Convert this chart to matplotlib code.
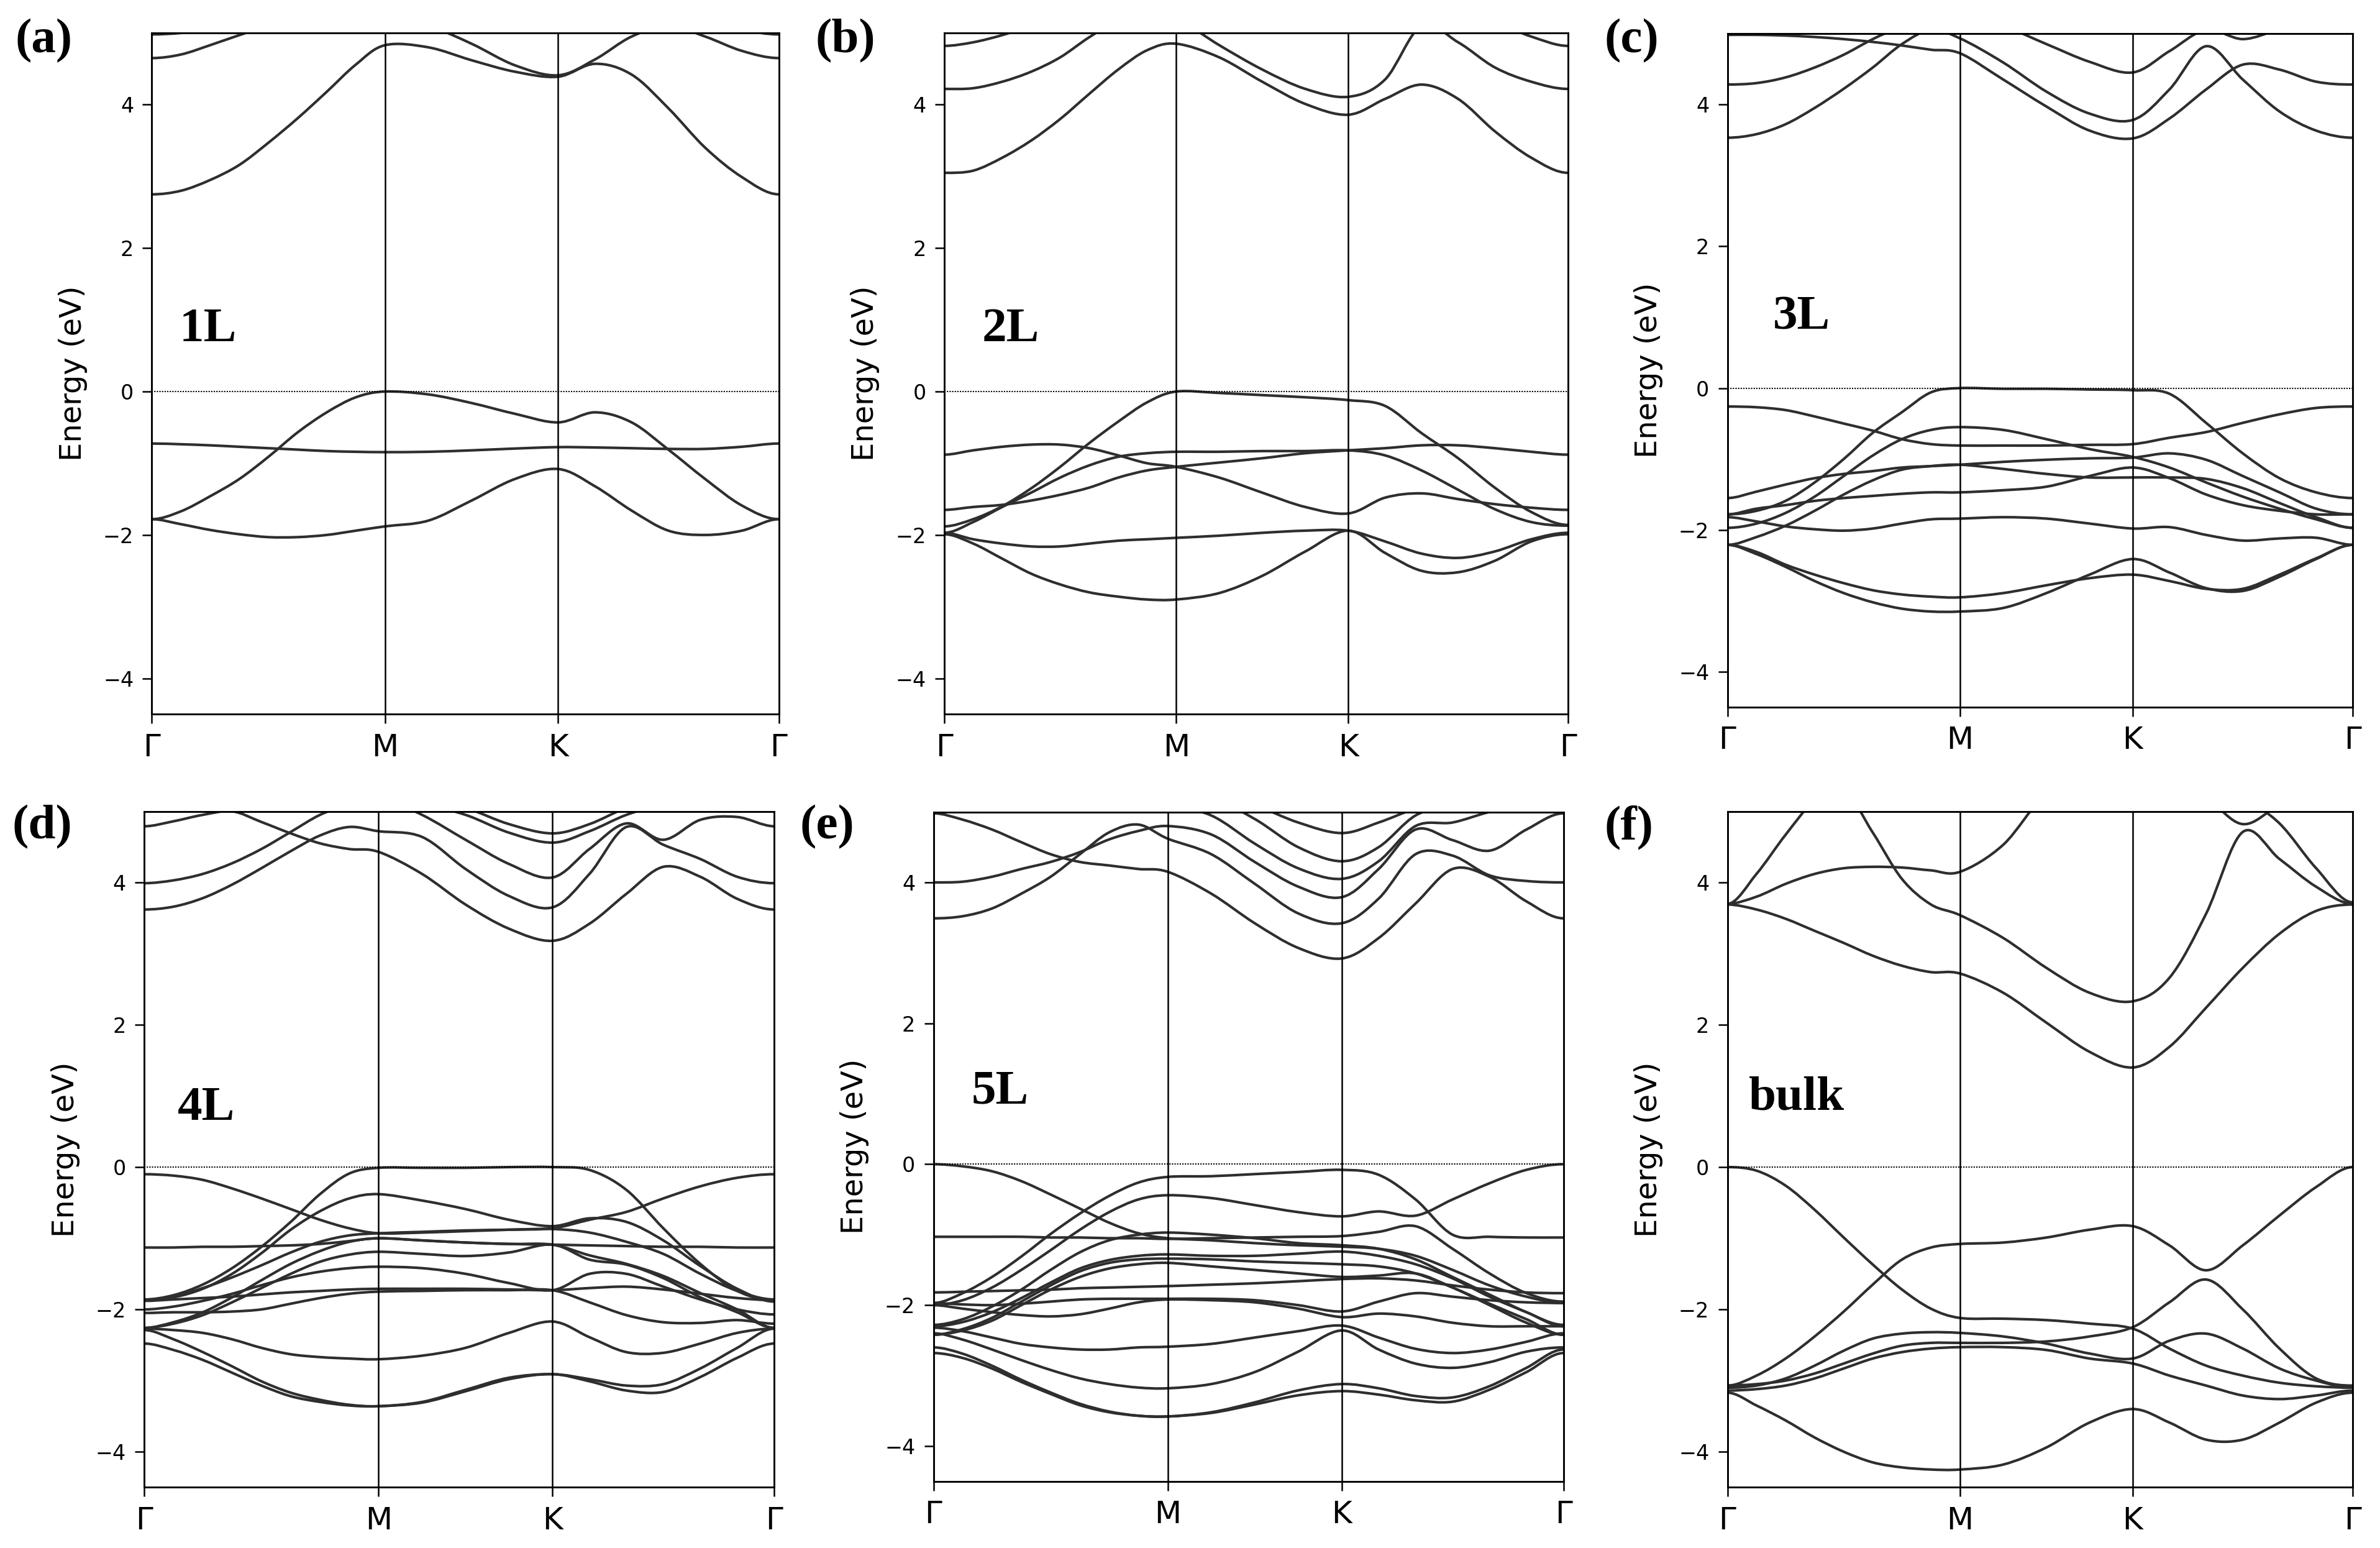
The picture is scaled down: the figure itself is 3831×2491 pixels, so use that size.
import matplotlib
matplotlib.use("Agg")
import matplotlib.pyplot as plt
import numpy as np
from matplotlib.path import Path
from matplotlib.patches import PathPatch

# ---------------- k-path sampling (fraction of path length) ----------------
k_frac = [0.0, 0.0465, 0.093, 0.1395, 0.186, 0.2325, 0.279, 0.3255, 0.372,
          0.441, 0.510, 0.579, 0.648,
          0.7067, 0.7653, 0.824, 0.8827, 0.9413, 1.0]
hs_pos = [0.0, 0.372, 0.648, 1.0]
hs_labels = ["Γ", "M", "K", "Γ"]
y_ticks = [-4, -2, 0, 2, 4]

# ---------------- (a) 1L ----------------
bands_1L = [
    [-1.78, -1.67, -1.46, -1.22, -0.91, -0.57, -0.29, -0.08, 0.0, -0.04, -0.16, -0.31, -0.43, -0.29, -0.43, -0.81, -1.22, -1.59, -1.78],
    [-0.725, -0.735, -0.75, -0.77, -0.79, -0.81, -0.83, -0.84, -0.845, -0.84, -0.82, -0.795, -0.775, -0.78, -0.79, -0.80, -0.80, -0.77, -0.725],
    [-1.78, -1.85, -1.93, -1.99, -2.03, -2.03, -2.0, -1.94, -1.88, -1.8, -1.52, -1.22, -1.08, -1.32, -1.66, -1.94, -2.0, -1.94, -1.78],
    [2.75, 2.8, 2.95, 3.16, 3.47, 3.81, 4.18, 4.56, 4.83, 4.8, 4.62, 4.46, 4.39, 4.57, 4.42, 3.95, 3.4, 2.99, 2.75],
    [4.65, 4.7, 4.83, 4.97, 5.1, 5.2, 5.25, 5.25, 5.2, 5.1, 4.85, 4.55, 4.41, 4.63, 4.95, 5.1, 4.95, 4.75, 4.65],
    [4.98, 5.0, 5.05, 5.15, 5.3, 5.4, 5.5, 5.5, 5.5, 5.5, 5.5, 5.5, 5.5, 5.5, 5.5, 5.4, 5.2, 5.05, 4.98],
]

# ---------------- (b) 2L ----------------
bands_2L = [
    [-1.88, -1.78, -1.6, -1.35, -1.05, -0.72, -0.42, -0.15, 0.0, -0.02, -0.05, -0.08, -0.12, -0.2, -0.58, -0.93, -1.34, -1.68, -1.86],
    [-0.88, -0.82, -0.77, -0.74, -0.74, -0.79, -0.89, -1.0, -1.05, -1.2, -1.41, -1.61, -1.7, -1.48, -1.42, -1.5, -1.57, -1.62, -1.65],
    [-1.65, -1.61, -1.58, -1.52, -1.44, -1.34, -1.2, -1.1, -1.05, -0.99, -0.93, -0.86, -0.82, -0.79, -0.75, -0.75, -0.79, -0.84, -0.88],
    [-1.97, -1.82, -1.61, -1.41, -1.2, -1.03, -0.91, -0.86, -0.84, -0.84, -0.83, -0.83, -0.82, -0.89, -1.1, -1.37, -1.64, -1.82, -1.87],
    [-1.97, -2.06, -2.12, -2.16, -2.16, -2.12, -2.08, -2.06, -2.04, -2.01, -1.97, -1.94, -1.94, -2.09, -2.26, -2.32, -2.23, -2.06, -1.97],
    [-1.99, -2.12, -2.33, -2.54, -2.69, -2.8, -2.86, -2.9, -2.9, -2.81, -2.57, -2.23, -1.94, -2.25, -2.5, -2.52, -2.36, -2.09, -1.99],
    [3.05, 3.08, 3.26, 3.5, 3.8, 4.15, 4.49, 4.76, 4.85, 4.66, 4.32, 4.01, 3.86, 4.08, 4.28, 4.08, 3.63, 3.26, 3.05],
    [4.22, 4.23, 4.32, 4.46, 4.66, 4.94, 5.17, 5.24, 5.2, 4.83, 4.49, 4.22, 4.11, 4.35, 5.1, 4.87, 4.52, 4.32, 4.22],
    [4.82, 4.87, 4.97, 5.1, 5.2, 5.3, 5.3, 5.3, 5.3, 5.3, 5.3, 5.3, 5.3, 5.3, 5.3, 5.3, 5.15, 4.95, 4.82],
]

# ---------------- (c) 3L ----------------
bands_3L = [
    [-1.78, -1.73, -1.59, -1.33, -1.0, -0.63, -0.34, -0.06, 0.0, -0.01, -0.01, -0.02, -0.03, -0.08, -0.49, -0.92, -1.27, -1.47, -1.55],
    [-0.26, -0.27, -0.31, -0.40, -0.50, -0.60, -0.72, -0.79, -0.81, -0.81, -0.81, -0.8, -0.79, -0.70, -0.62, -0.49, -0.37, -0.28, -0.26],
    [-1.97, -1.91, -1.76, -1.53, -1.24, -0.95, -0.72, -0.59, -0.55, -0.59, -0.72, -0.86, -0.97, -1.12, -1.33, -1.53, -1.70, -1.85, -1.97],
    [-1.55, -1.46, -1.36, -1.27, -1.21, -1.17, -1.12, -1.10, -1.08, -1.04, -1.01, -0.99, -0.98, -0.92, -1.01, -1.24, -1.47, -1.70, -1.78],
    [-2.21, -2.10, -1.94, -1.73, -1.50, -1.30, -1.15, -1.10, -1.08, -1.14, -1.21, -1.26, -1.26, -1.26, -1.28, -1.41, -1.62, -1.82, -1.97],
    [-1.78, -1.70, -1.65, -1.59, -1.55, -1.52, -1.49, -1.47, -1.47, -1.44, -1.39, -1.24, -1.12, -1.27, -1.50, -1.65, -1.73, -1.78, -1.78],
    [-1.82, -1.88, -1.95, -1.99, -2.01, -1.98, -1.91, -1.85, -1.84, -1.82, -1.84, -1.91, -1.98, -1.96, -2.07, -2.15, -2.12, -2.11, -2.21],
    [-2.21, -2.31, -2.49, -2.63, -2.75, -2.85, -2.91, -2.94, -2.95, -2.89, -2.78, -2.68, -2.63, -2.72, -2.83, -2.83, -2.63, -2.4, -2.21],
    [-2.21, -2.34, -2.52, -2.72, -2.89, -3.02, -3.11, -3.15, -3.15, -3.1, -2.89, -2.63, -2.41, -2.6, -2.82, -2.86, -2.66, -2.41, -2.21],
    [3.53, 3.58, 3.72, 3.95, 4.22, 4.52, 4.85, 5.05, 4.93, 4.59, 4.18, 3.87, 3.78, 4.21, 4.82, 4.35, 3.9, 3.63, 3.53],
    [4.98, 4.98, 4.97, 4.95, 4.92, 4.88, 4.83, 4.77, 4.72, 4.35, 3.97, 3.63, 3.52, 3.8, 4.21, 4.56, 4.49, 4.32, 4.28],
    [4.28, 4.3, 4.38, 4.52, 4.7, 4.92, 5.1, 5.2, 5.2, 5.1, 4.85, 4.6, 4.45, 4.75, 5.05, 4.92, 5.05, 5.1, 5.1],
]

# ---------------- (d) 4L ----------------
bands_4L = [
    [-1.86, -1.8, -1.65, -1.42, -1.12, -0.77, -0.38, -0.09, -0.01, -0.01, -0.01, 0.0, 0.0, -0.04, -0.32, -0.86, -1.36, -1.74, -1.87],
    [-0.1, -0.12, -0.18, -0.3, -0.44, -0.59, -0.74, -0.86, -0.93, -0.92, -0.9, -0.88, -0.86, -0.74, -0.63, -0.44, -0.27, -0.15, -0.10],
    [-1.87, -1.83, -1.71, -1.5, -1.21, -0.88, -0.62, -0.44, -0.38, -0.47, -0.59, -0.74, -0.83, -0.72, -0.77, -1.03, -1.39, -1.71, -1.89],
    [-1.13, -1.13, -1.12, -1.12, -1.11, -1.1, -1.08, -1.04, -1.0, -1.03, -1.06, -1.08, -1.09, -1.1, -1.11, -1.12, -1.12, -1.13, -1.13],
    [-1.87, -1.82, -1.7, -1.55, -1.38, -1.2, -1.05, -0.96, -0.93, -0.91, -0.89, -0.88, -0.87, -0.92, -1.05, -1.22, -1.5, -1.74, -1.86],
    [-2.26, -2.18, -2.04, -1.83, -1.59, -1.36, -1.18, -1.05, -1.0, -1.03, -1.06, -1.08, -1.09, -1.24, -1.36, -1.53, -1.77, -2.0, -2.26],
    [-2.26, -2.2, -2.08, -1.9, -1.7, -1.5, -1.33, -1.23, -1.19, -1.22, -1.25, -1.2, -1.09, -1.3, -1.37, -1.56, -1.83, -2.04, -2.26],
    [-2.0, -1.96, -1.88, -1.78, -1.66, -1.55, -1.47, -1.42, -1.4, -1.42, -1.5, -1.63, -1.73, -1.5, -1.5, -1.68, -1.86, -2.0, -2.07],
    [-1.88, -1.86, -1.84, -1.82, -1.79, -1.76, -1.74, -1.72, -1.71, -1.71, -1.71, -1.72, -1.73, -1.7, -1.68, -1.72, -1.78, -1.84, -1.87],
    [-2.05, -2.04, -2.04, -2.03, -2.0, -1.92, -1.84, -1.78, -1.75, -1.74, -1.73, -1.73, -1.73, -1.9, -2.08, -2.18, -2.19, -2.15, -2.2],
    [-2.27, -2.29, -2.33, -2.42, -2.54, -2.63, -2.67, -2.69, -2.7, -2.65, -2.54, -2.33, -2.17, -2.39, -2.6, -2.61, -2.48, -2.33, -2.27],
    [-2.29, -2.42, -2.6, -2.8, -3.01, -3.17, -3.27, -3.34, -3.36, -3.3, -3.13, -2.96, -2.91, -2.98, -3.07, -3.05, -2.83, -2.54, -2.27],
    [-2.48, -2.57, -2.71, -2.89, -3.07, -3.22, -3.3, -3.35, -3.36, -3.31, -3.15, -2.98, -2.91, -3.01, -3.14, -3.16, -2.95, -2.68, -2.48],
    [3.62, 3.66, 3.78, 3.97, 4.2, 4.44, 4.66, 4.78, 4.72, 4.64, 4.19, 3.81, 3.65, 4.12, 4.78, 4.53, 4.33, 4.08, 3.99],
    [3.99, 4.03, 4.12, 4.27, 4.47, 4.71, 4.95, 5.1, 5.2, 4.95, 4.6, 4.26, 4.07, 4.47, 4.83, 4.6, 4.88, 4.92, 4.79],
    [4.79, 4.86, 4.95, 5.0, 4.85, 4.69, 4.55, 4.47, 4.43, 4.12, 3.69, 3.35, 3.18, 3.42, 3.84, 4.22, 4.08, 3.77, 3.62],
    [5.3, 5.3, 5.3, 5.3, 5.3, 5.3, 5.3, 5.2, 5.15, 5.1, 4.95, 4.7, 4.56, 4.72, 4.95, 5.1, 5.2, 5.3, 5.3],
    [5.4, 5.4, 5.4, 5.4, 5.4, 5.4, 5.4, 5.3, 5.25, 5.2, 5.05, 4.82, 4.69, 4.82, 5.05, 5.2, 5.3, 5.4, 5.4],
]

# ---------------- (e) 5L ----------------
bands_5L = [
    [0.0, -0.03, -0.1, -0.24, -0.43, -0.63, -0.83, -0.98, -1.05, -1.08, -1.12, -1.15, -1.17, -1.2, -1.3, -1.5, -1.72, -1.88, -1.97],
    [-1.97, -1.83, -1.6, -1.31, -0.99, -0.7, -0.45, -0.26, -0.18, -0.17, -0.14, -0.11, -0.08, -0.15, -0.5, -1.0, -1.03, -1.04, -1.04],
    [-2.0, -1.93, -1.75, -1.5, -1.22, -0.93, -0.68, -0.5, -0.44, -0.48, -0.58, -0.68, -0.74, -0.67, -0.73, -0.5, -0.27, -0.08, 0.0],
    [-1.03, -1.03, -1.03, -1.03, -1.04, -1.04, -1.05, -1.05, -1.06, -1.05, -1.04, -1.03, -1.02, -0.96, -0.88, -1.2, -1.55, -1.83, -1.95],
    [-2.28, -2.2, -2.02, -1.78, -1.5, -1.25, -1.08, -1.0, -0.97, -1.0, -1.05, -1.12, -1.15, -1.2, -1.35, -1.6, -1.85, -2.1, -2.28],
    [-2.3, -2.24, -2.1, -1.9, -1.68, -1.48, -1.36, -1.3, -1.28, -1.3, -1.3, -1.27, -1.24, -1.3, -1.42, -1.62, -1.88, -2.1, -2.3],
    [-2.42, -2.34, -2.18, -1.95, -1.72, -1.52, -1.4, -1.35, -1.34, -1.35, -1.38, -1.4, -1.42, -1.45, -1.55, -1.75, -1.98, -2.2, -2.42],
    [-2.42, -2.36, -2.22, -2.0, -1.78, -1.6, -1.48, -1.42, -1.4, -1.45, -1.5, -1.55, -1.6, -1.58, -1.55, -1.75, -2.0, -2.25, -2.42],
    [-1.82, -1.81, -1.8, -1.79, -1.78, -1.76, -1.75, -1.74, -1.73, -1.71, -1.69, -1.66, -1.63, -1.62, -1.65, -1.72, -1.78, -1.82, -1.83],
    [-1.97, -1.99, -2.0, -1.98, -1.95, -1.92, -1.91, -1.91, -1.91, -1.91, -1.93, -2.0, -2.09, -1.95, -1.83, -1.88, -1.93, -1.96, -1.97],
    [-2.0, -2.05, -2.1, -2.14, -2.16, -2.13, -2.05, -1.96, -1.92, -1.93, -1.96, -2.05, -2.17, -2.12, -2.16, -2.25, -2.3, -2.3, -2.3],
    [-2.32, -2.37, -2.46, -2.55, -2.6, -2.63, -2.63, -2.6, -2.59, -2.55, -2.46, -2.37, -2.29, -2.46, -2.62, -2.68, -2.63, -2.52, -2.4],
    [-2.4, -2.49, -2.63, -2.78, -2.92, -3.04, -3.12, -3.17, -3.18, -3.12, -2.95, -2.66, -2.36, -2.63, -2.83, -2.89, -2.81, -2.66, -2.6],
    [-2.6, -2.69, -2.86, -3.06, -3.24, -3.4, -3.51, -3.57, -3.58, -3.52, -3.38, -3.21, -3.12, -3.18, -3.29, -3.31, -3.15, -2.89, -2.63],
    [-2.68, -2.75, -2.9, -3.09, -3.26, -3.42, -3.52, -3.57, -3.58, -3.53, -3.41, -3.28, -3.22, -3.27, -3.35, -3.37, -3.2, -2.95, -2.68],
    [3.49, 3.52, 3.63, 3.84, 4.08, 4.4, 4.71, 4.82, 4.62, 4.4, 3.98, 3.56, 3.42, 3.77, 4.4, 4.38, 4.1, 4.02, 4.0],
    [4.0, 4.01, 4.08, 4.19, 4.29, 4.43, 4.61, 4.73, 4.8, 4.68, 4.29, 3.94, 3.79, 4.19, 4.75, 4.6, 4.45, 4.75, 4.98],
    [4.98, 4.89, 4.75, 4.57, 4.4, 4.29, 4.24, 4.19, 4.15, 3.84, 3.42, 3.07, 2.92, 3.21, 3.7, 4.19, 4.08, 3.73, 3.49],
    [5.3, 5.3, 5.3, 5.3, 5.3, 5.3, 5.25, 5.2, 5.1, 4.95, 4.55, 4.2, 4.05, 4.3, 4.8, 4.85, 5.0, 5.1, 5.1],
    [5.4, 5.4, 5.4, 5.4, 5.4, 5.4, 5.4, 5.3, 5.25, 5.2, 4.9, 4.5, 4.3, 4.5, 4.95, 5.1, 5.2, 5.3, 5.3],
    [5.5, 5.5, 5.5, 5.5, 5.5, 5.5, 5.5, 5.45, 5.4, 5.3, 5.1, 4.85, 4.7, 4.85, 5.05, 5.2, 5.3, 5.4, 5.4],
]

# ---------------- (f) bulk ----------------
bands_bulk = [
    [0.0, -0.05, -0.26, -0.6, -0.99, -1.37, -1.72, -1.99, -2.12, -2.13, -2.15, -2.2, -2.27, -2.55, -2.79, -2.93, -3.03, -3.08, -3.1],
    [-3.07, -2.93, -2.69, -2.38, -2.03, -1.65, -1.3, -1.13, -1.08, -1.06, -0.99, -0.88, -0.83, -1.1, -1.45, -1.1, -0.68, -0.28, 0.0],
    [-3.07, -3.05, -3.0, -2.9, -2.76, -2.62, -2.51, -2.47, -2.47, -2.47, -2.45, -2.38, -2.25, -1.9, -1.58, -2.0, -2.55, -2.97, -3.07],
    [-3.1, -3.07, -2.97, -2.79, -2.58, -2.41, -2.34, -2.32, -2.33, -2.38, -2.48, -2.62, -2.69, -2.44, -2.34, -2.55, -2.83, -3.0, -3.1],
    [-3.14, -3.12, -3.07, -2.97, -2.83, -2.69, -2.6, -2.55, -2.53, -2.53, -2.57, -2.69, -2.76, -2.93, -3.07, -3.21, -3.26, -3.21, -3.14],
    [-3.17, -3.35, -3.56, -3.8, -4.0, -4.15, -4.22, -4.25, -4.25, -4.18, -3.94, -3.59, -3.4, -3.59, -3.83, -3.83, -3.59, -3.31, -3.17],
    [3.69, 3.62, 3.49, 3.32, 3.15, 2.97, 2.83, 2.74, 2.72, 2.45, 2.03, 1.62, 1.4, 1.69, 2.24, 2.8, 3.28, 3.6, 3.69],
    [3.7, 4.12, 4.67, 5.15, 5.3, 4.7, 4.05, 3.69, 3.54, 3.22, 2.8, 2.45, 2.33, 2.66, 3.56, 4.71, 4.33, 3.94, 3.7],
    [3.7, 3.8, 3.98, 4.12, 4.2, 4.22, 4.21, 4.17, 4.15, 4.53, 5.25, 5.5, 5.6, 5.6, 5.5, 5.2, 4.83, 4.2, 3.72],
    [5.6, 5.6, 5.6, 5.6, 5.6, 5.6, 5.6, 5.6, 5.6, 5.6, 5.6, 5.6, 5.6, 5.5, 5.2, 4.82, 5.1, 5.4, 5.5],
]

panel_tags = ["(a)", "(b)", "(c)", "(d)", "(e)", "(f)"]
layer_names = ["1L", "2L", "3L", "4L", "5L", "bulk"]
all_bands = [bands_1L, bands_2L, bands_3L, bands_4L, bands_5L, bands_bulk]

# layout (figure fractions)
axes_rects = [
    [0.0638, 0.5386, 0.2634, 0.4401],
    [0.3967, 0.5386, 0.2621, 0.4401],
    [0.7258, 0.5431, 0.2628, 0.4353],
    [0.0606, 0.0392, 0.2647, 0.4367],
    [0.3922, 0.0431, 0.2647, 0.4324],
    [0.7258, 0.0392, 0.2628, 0.4367],
]
tag_pos = [(0.0064, 0.9735), (0.3425, 0.9735), (0.674, 0.9735),
           (0.0051, 0.4657), (0.336, 0.4657), (0.674, 0.4657)]
name_pos = [(0.044, 0.70), (0.061, 0.70), (0.073, 0.83),
            (0.053, 0.66), (0.060, 0.86), (0.034, 0.81)]


def band_path(xs, ys):
    """Smooth (Catmull-Rom style) Bezier path through the read band values."""
    pts = np.column_stack([xs, ys]).astype(float)
    n = len(pts)
    # mirrored end points -> flat tangent at Gamma
    first = np.array([2 * pts[0, 0] - pts[1, 0], pts[1, 1]])
    last = np.array([2 * pts[-1, 0] - pts[-2, 0], pts[-2, 1]])
    ext = np.vstack([first, pts, last])
    verts = [pts[0]]
    codes = [Path.MOVETO]
    for i in range(1, n):
        p0, p1, p2, p3 = ext[i - 1], ext[i], ext[i + 1], ext[i + 2]
        c1 = p1 + (p2 - p0) / 6.0
        c2 = p2 - (p3 - p1) / 6.0
        verts += [c1, c2, p2]
        codes += [Path.CURVE4] * 3
    return Path(np.array(verts), codes)


fig = plt.figure(figsize=(3831 / 300, 2491 / 300), dpi=300)
band_color = "#2e2e2e"

for i in range(6):
    ax = fig.add_axes(axes_rects[i])
    for band in all_bands[i]:
        patch = PathPatch(band_path(k_frac, band), facecolor="none",
                          edgecolor=band_color, lw=1.0, capstyle="round",
                          joinstyle="round")
        ax.add_patch(patch)
    for xv in hs_pos[1:-1]:
        ax.axvline(xv, color="black", lw=0.6)
    ax.axhline(0, color="black", lw=0.5, ls=(0, (1, 1)))
    ax.set_xlim(0, 1)
    ax.set_ylim(-4.5, 5)
    ax.set_xticks(hs_pos)
    ax.set_xticklabels(hs_labels)
    ax.set_yticks(y_ticks)
    ax.tick_params(axis="x", labelsize=12, length=3.5, width=0.6)
    ax.tick_params(axis="y", labelsize=8, length=3.5, width=0.6)
    for s in ax.spines.values():
        s.set_linewidth(0.7)
    ax.set_ylabel("Energy (eV)", fontsize=11.5, labelpad=6)
    ax.text(name_pos[i][0], name_pos[i][1], layer_names[i], transform=ax.transData,
            fontsize=19, fontweight="bold", family="Liberation Serif",
            ha="left", va="baseline")
    fig.text(tag_pos[i][0], tag_pos[i][1], panel_tags[i], fontsize=19,
             fontweight="bold", family="Liberation Serif", ha="left", va="center")

fig.savefig("out.png", dpi=300, facecolor="white")
